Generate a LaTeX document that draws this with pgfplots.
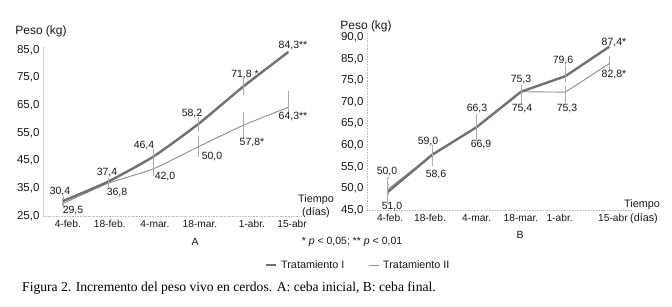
\documentclass[border=0pt]{standalone}
\usepackage{fontspec}
\setmainfont{Liberation Sans}
\newfontfamily\capfont{Liberation Serif}
\usepackage{pgfplots}
\pgfplotsset{compat=1.18}
\usepackage{pgfplotstable}

\definecolor{tI}{RGB}{112,111,124}
\definecolor{tII}{RGB}{140,140,140}
\definecolor{eb}{RGB}{172,172,172}
\definecolor{axc}{RGB}{190,190,190}
\definecolor{txt}{RGB}{25,25,25}

% Panel A: ceba inicial
\pgfplotstableread{
x y ep em
0 30.4 1.2 1.2
1 37.4 0.8 0.8
2 46.4 2.2 2.2
3 58.2 2.0 2.0
4 71.8 2.6 2.4
5 84.3 0.0 0.0
}\AI
\pgfplotstableread{
x y ep em
0 29.5 0.8 0.8
1 36.8 0.8 0.8
2 42.0 2.0 2.0
3 50.0 3.3 3.3
4 57.8 4.3 4.3
5 64.3 5.2 1.8
}\AII
% Panel B: ceba final (plotted at the positions drawn in the figure)
\pgfplotstableread{
x y ep em
0 49.2 3.2 2.8
1 57.8 2.0 1.5
2 64.2 2.8 1.0
3 72.4 1.2 1.0
4 76.0 2.0 1.2
5 82.9 0.0 0.0
}\BI
\pgfplotstableread{
x y ep em
0 49.8 1.0 1.0
1 57.8 1.0 2.3
2 64.2 1.0 2.9
3 72.4 0.6 2.6
4 72.3 1.0 2.3
5 79.0 1.3 1.3
}\BII

\pgfplotsset{
  panel/.style={
    scale only axis, clip=false,
    axis x line=bottom, axis y line=left,
    axis line style={axc, densely dotted, line width=0.6pt, -},
    major tick length=0pt,
    xticklabel style={font=\fontsize{10.2}{12}\selectfont, text=txt, yshift=-1pt},
    yticklabel style={font=\fontsize{11.5}{13}\selectfont, text=txt},
  },
  lineI/.style={tI, line width=2.4pt, no markers,
    error bars/.cd, y dir=both, y explicit,
    error bar style={eb, line width=0.8pt},
    error mark options={eb, mark size=1.4pt, line width=0.7pt}},
  lineII/.style={tII, line width=0.9pt, no markers,
    error bars/.cd, y dir=both, y explicit,
    error bar style={eb, line width=0.8pt},
    error mark options={eb, mark size=1.4pt, line width=0.7pt}},
}

\begin{document}
\begin{tikzpicture}[x=1pt,y=1pt]
\path[use as bounding box, fill=white] (0,0) rectangle (672,306);

% ---------- Panel A ----------
\begin{axis}[panel,
  at={(43pt,90pt)}, anchor=south west,
  width=259pt, height=168.8pt,
  xmin=-0.44, xmax=5.3, ymin=25, ymax=86,
  ytick={25,35,45,55,65,75,85},
  yticklabels={{25,0},{35,0},{45,0},{55,0},{65,0},{75,0},{85,0}},
  xtick={0.11,1.04,2.04,3.04,4.19,5.08},
  xticklabels={4-feb.,18-feb.,4-mar.,18-mar.,1-abr.,15-abr},
]
\addplot[smooth, tension=0.35, lineII] table[x=x,y=y,y error plus=ep,y error minus=em]{\AII};
\addplot[smooth, tension=0.35, lineI] table[x=x,y=y,y error plus=ep,y error minus=em]{\AI};
\end{axis}

% ---------- Panel B ----------
\begin{axis}[panel,
  at={(367pt,96pt)}, anchor=south west,
  width=265pt, height=177pt,
  xmin=-0.47, xmax=5.5, ymin=45, ymax=86,
  ytick={45,50,55,60,65,70,75,80,85},
  yticklabels={{45,0},{50,0},{55,0},{60,0},{65,0},{70,0},{75,0},{85,0},{90,0}},
  xtick={0.05,0.95,2.0,3.0,3.87,5.07},
  xticklabels={4-feb.,18-feb.,4-mar.,18-mar.,1-abr.,15-abr},
]
\addplot[lineII] table[x=x,y=y,y error plus=ep,y error minus=em]{\BII};
\addplot[lineI] table[x=x,y=y,y error plus=ep,y error minus=em]{\BI};
\end{axis}

\begin{scope}[every node/.style={font=\fontsize{10.5}{12}\selectfont, text=txt, inner sep=0pt}]
% data labels A
\node at (60,114) {30,4};
\node at (73,95) {29,5};
\node at (107,133) {37,4};
\node at (117,113) {36,8};
\node at (144,160) {46,4};
\node at (165,129) {42,0};
\node at (192,192) {58,2};
\node at (212,149) {50,0};
\node at (245,231) {71,8 *};
\node at (252,163) {57,8*};
\node at (293,260) {84,3**};
\node at (293,189) {64,3**};
% data labels B
\node at (387,134) {50,0};
\node at (392,99) {51,0};
\node at (428,164) {59,0};
\node at (436,131) {58,6};
\node at (477,197) {66,3};
\node at (481,161) {66,9};
\node at (521,226) {75,3};
\node at (522,197) {75,4};
\node at (563,245) {79,6};
\node at (567,197) {75,3};
\node at (614,263) {87,4*};
\node at (614,231) {82,8*};
% axis titles
\node[font=\fontsize{12}{14}\selectfont] at (41,275) {Peso (kg)};
\node[font=\fontsize{12}{14}\selectfont] at (366,280) {Peso (kg)};
\node[font=\fontsize{10.8}{12}\selectfont] at (316,106) {Tiempo};
\node[font=\fontsize{10.8}{12}\selectfont] at (316,93) {(días)};
\node[font=\fontsize{10.8}{12}\selectfont] at (642,101) {Tiempo};
\node[font=\fontsize{10.8}{12}\selectfont] at (644,87) {(días)};
% panel letters and note
\node at (195,64) {A};
\node at (520,71) {B};
\node at (352,64) {* \textit{p} < 0,05; ** \textit{p} < 0,01};
% legend
\draw[tI, line width=2.4pt] (266,41) -- (276,41);
\node[anchor=west, font=\fontsize{10.8}{12}\selectfont] at (281,41) {Tratamiento I};
\draw[tII, line width=0.9pt] (369,41) -- (379,41);
\node[anchor=west, font=\fontsize{10.8}{12}\selectfont] at (383,41) {Tratamiento II};
% caption
\node[anchor=west, text=black, font=\capfont\fontsize{13.6}{15}\selectfont] at (22,18) {Figura 2. Incremento del peso vivo en cerdos. A: ceba inicial, B: ceba final.};
\end{scope}
\end{tikzpicture}
\end{document}
